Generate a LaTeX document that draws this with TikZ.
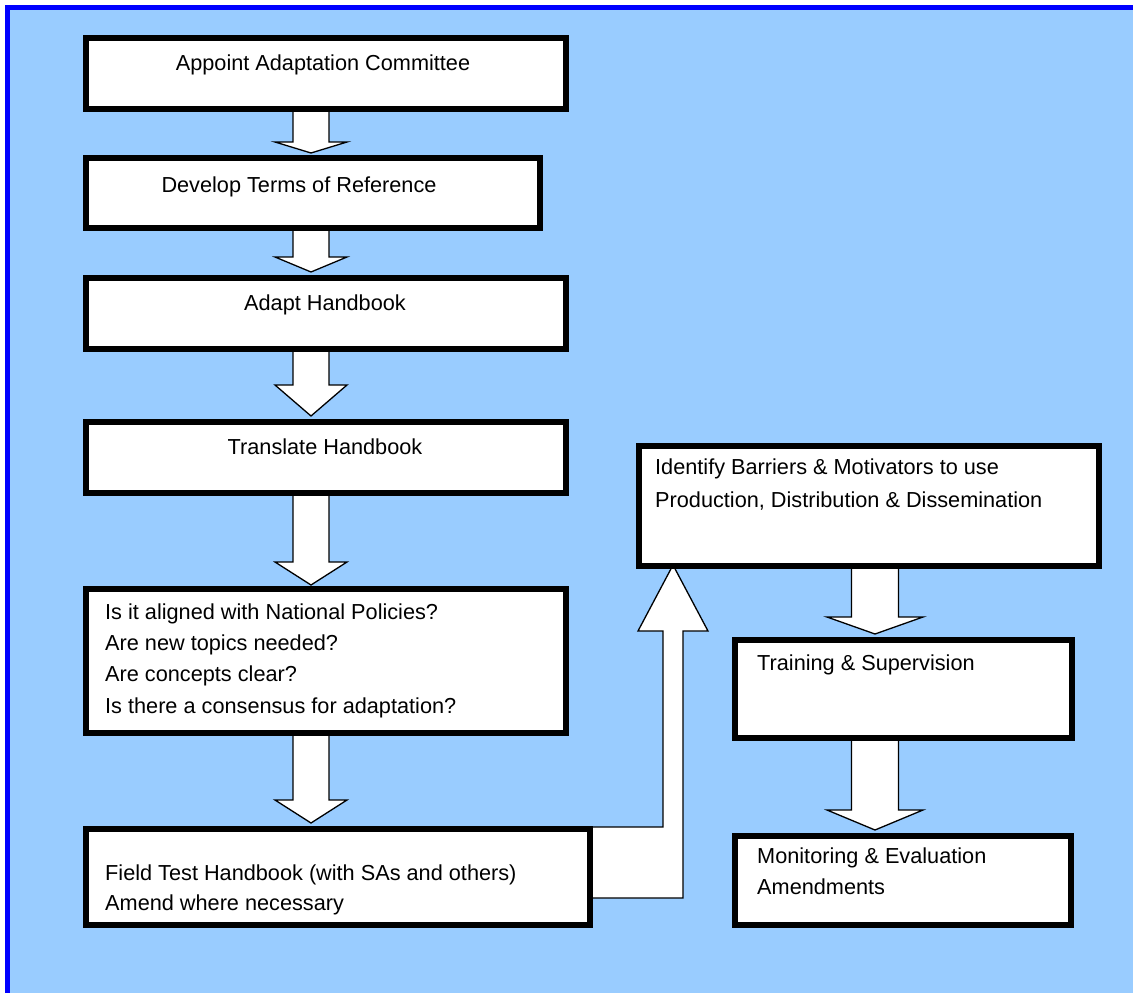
\documentclass[tikz,border=0pt]{standalone}
\usepackage{fontspec}
\setmainfont{Liberation Sans}
\usetikzlibrary{calc}
\definecolor{bgblue}{HTML}{99CCFF}
\definecolor{frameblue}{HTML}{0000FF}
\tikzset{
  stepbox/.style={draw=black, line width=5.5pt, fill=white, rectangle, inner sep=0pt, anchor=north west},
  blk/.style={draw=black, line width=1.3pt, fill=white, line join=miter},
  txt/.style={inner sep=0pt, text height=15.5pt, text depth=0pt, font=\fontsize{21.7}{26}\selectfont},
}
\newcommand{\blockdown}[5]{%
  \draw[blk] ($(#1)+(-#3,0)$) -- ($(#2)+(-#3,-#5)$) -- ($(#2)+(-#4,-#5)$) -- (#2)
    -- ($(#2)+(#4,-#5)$) -- ($(#2)+(#3,-#5)$) -- ($(#1)+(#3,0)$) -- cycle;}
\begin{document}
\begin{tikzpicture}[x=1pt,y=-1pt]
\useasboundingbox (0,0) rectangle (1133,993);
\clip (0,0) rectangle (1133,993);
\fill[white] (0,0) rectangle (1133,993);
\draw[frameblue, line width=5pt, fill=bgblue] (7.5,7.5) rectangle (1145,1005);

% arrow anchor coordinates
\coordinate (a1s) at (311,100);  \coordinate (a1t) at (311,153);
\coordinate (a2s) at (311,220);  \coordinate (a2t) at (311,272);
\coordinate (a3s) at (311,340);  \coordinate (a3t) at (311,416);
\coordinate (a4s) at (311,485);  \coordinate (a4t) at (311,585);
\coordinate (a5s) at (311,725);  \coordinate (a5t) at (311,823);
\coordinate (a6s) at (875,558);  \coordinate (a6t) at (875,634);
\coordinate (a7s) at (875,730);  \coordinate (a7t) at (875,830);

\blockdown{a1s}{a1t}{18}{36}{11}
\blockdown{a2s}{a2t}{18}{36}{15}
\blockdown{a3s}{a3t}{18}{36}{31}
\blockdown{a4s}{a4t}{18}{36}{23}
\blockdown{a5s}{a5t}{18}{36}{23}
\blockdown{a6s}{a6t}{23.5}{48}{17}
\blockdown{a7s}{a7t}{23.5}{48}{20}

% bent arrow from field test to identify barriers
\coordinate (bentA) at (580,827);
\coordinate (bentTip) at (673,565);
\draw[blk] (bentA) -- (663,827) -- (663,631) -- (638,631) -- (bentTip) -- (708,631)
  -- (683,631) -- (683,898) -- (580,898) -- cycle;

% boxes
\node[stepbox, minimum width=480pt, minimum height=71pt] (b1) at (83,35) {};
\node[stepbox, minimum width=454pt, minimum height=70pt] (b2) at (83,155) {};
\node[stepbox, minimum width=480pt, minimum height=71pt] (b3) at (83,275) {};
\node[stepbox, minimum width=480pt, minimum height=71pt] (b4) at (83,419) {};
\node[stepbox, minimum width=480pt, minimum height=144pt] (b5) at (83,586) {};
\node[stepbox, minimum width=504pt, minimum height=96pt] (b6) at (83,826) {};
\node[stepbox, minimum width=460pt, minimum height=120pt] (b7) at (636,443) {};
\node[stepbox, minimum width=337pt, minimum height=98pt] (b8) at (732,637) {};
\node[stepbox, minimum width=336pt, minimum height=89pt] (b9) at (732,833) {};

% texts
\node[txt] (t1) at (323,63) {Appoint Adaptation Committee};
\node[txt] (t2) at (299,185) {Develop Terms of Reference};
\node[txt] (t3) at (325,303) {Adapt Handbook};
\node[txt] (t4) at (325,447) {Translate Handbook};
\node[txt, anchor=west] (t5a) at (105,612) {Is it aligned with National Policies?};
\node[txt, anchor=west] (t5b) at (105,643) {Are new topics needed?};
\node[txt, anchor=west] (t5c) at (105,674) {Are concepts clear?};
\node[txt, anchor=west] (t5d) at (105,706) {Is there a consensus for adaptation?};
\node[txt, anchor=west] (t6a) at (105,873) {Field Test Handbook (with SAs and others)};
\node[txt, anchor=west] (t6b) at (105,903) {Amend where necessary};
\node[txt, anchor=west] (t7a) at (655,467) {Identify Barriers \& Motivators to use};
\node[txt, anchor=west] (t7b) at (655,500) {Production, Distribution \& Dissemination};
\node[txt, anchor=west] (t8) at (757,663) {Training \& Supervision};
\node[txt, anchor=west] (t9a) at (757,856) {Monitoring \& Evaluation};
\node[txt, anchor=west] (t9b) at (757,887) {Amendments};
\end{tikzpicture}
\end{document}
